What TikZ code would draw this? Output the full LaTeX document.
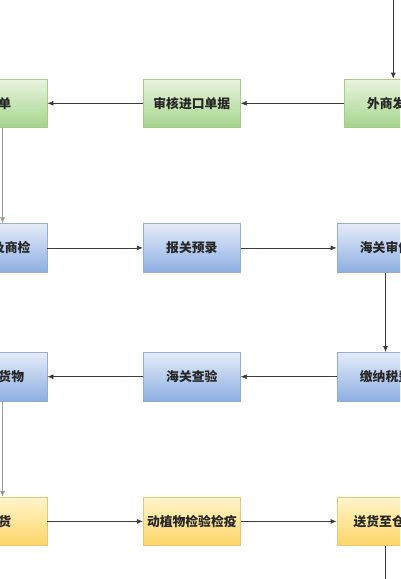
\documentclass[tikz,border=0pt]{standalone}
\usepackage{fontspec}
\newfontfamily\cjk{Noto Sans CJK SC}
\usetikzlibrary{arrows.meta}
\definecolor{gtop}{HTML}{E8F4DF}
\definecolor{gbot}{HTML}{A6D48B}
\definecolor{gbrd}{HTML}{A9C98F}
\definecolor{btop}{HTML}{E4ECF8}
\definecolor{bbot}{HTML}{8DAFE2}
\definecolor{bbrd}{HTML}{93ACD4}
\definecolor{ytop}{HTML}{FFF5CC}
\definecolor{ybot}{HTML}{FDD565}
\definecolor{ybrd}{HTML}{E6C67A}
\definecolor{lnk}{HTML}{3A3A3A}
\definecolor{lnkl}{HTML}{9A9A9A}
\begin{document}
\begin{tikzpicture}[x=1pt,y=-1pt,
  box/.style={rectangle,minimum width=97pt,minimum height=48.5pt,inner sep=0pt,
    line width=0.8pt,font=\cjk\fontsize{12.8}{14}\selectfont\bfseries,text=black!85},
  gbox/.style={box,draw=gbrd,top color=gtop,bottom color=gbot},
  bbox/.style={box,draw=bbrd,top color=btop,bottom color=bbot},
  ybox/.style={box,draw=ybrd,top color=ytop,bottom color=ybot},
  link/.style={draw=lnk,line width=0.8pt,-{Latex[length=6pt,width=5pt]}},
  faint/.style={draw=lnkl,line width=0.6pt,-{Latex[length=6pt,width=5pt]}},
  plain/.style={draw=lnk,line width=0.8pt}]
\useasboundingbox (0,0) rectangle (400,579);
\clip (0,0) rectangle (400,579);
\fill[white] (0,0) rectangle (400,579);
% row 1
\node[gbox] (r1l) at (-1.5,103.3) {换单};
\node[gbox] (r1m) at (191.8,103.3) {审核进口单据};
\node[gbox] (r1r) at (392.7,103.3) {外商发货};
% row 2
\node[bbox] (r2l) at (-1.5,247.9) {报检及商检};
\node[bbox] (r2m) at (191.8,247.9) {报关预录};
\node[bbox] (r2r) at (385.5,247.9) {海关审价};
% row 3
\node[bbox] (r3l) at (-1.5,376.7) {放行货物};
\node[bbox] (r3m) at (191.8,376.7) {海关查验};
\node[bbox] (r3r) at (385.5,376.7) {缴纳税费};
% row 4
\node[ybox] (r4l) at (-1.5,521.4) {提货};
\node[ybox] (r4m) at (191.8,521.4) {动植物检验检疫};
\node[ybox] (r4r) at (385.5,521.4) {送货至仓库};
\coordinate (top) at (393.3,-10);
\coordinate (bot) at (385.7,590);
% connectors
\draw[link] (top) -- (r1r.north -| top);
\draw[link] (r1r) -- (r1m);
\draw[link] (r1m) -- (r1l);
\draw[faint] ([xshift=4pt]r1l.south) -- ([xshift=4pt]r2l.north);
\draw[link] (r2l) -- (r2m);
\draw[link] (r2m) -- (r2r);
\draw[link] (r2r) -- (r3r);
\draw[link] (r3r) -- (r3m);
\draw[link] (r3m) -- (r3l);
\draw[faint] ([xshift=4pt]r3l.south) -- ([xshift=4pt]r4l.north);
\draw[link] (r4l) -- (r4m);
\draw[link] (r4m) -- (r4r);
\draw[plain] (r4r.south -| bot) -- (bot);
\end{tikzpicture}
\end{document}
